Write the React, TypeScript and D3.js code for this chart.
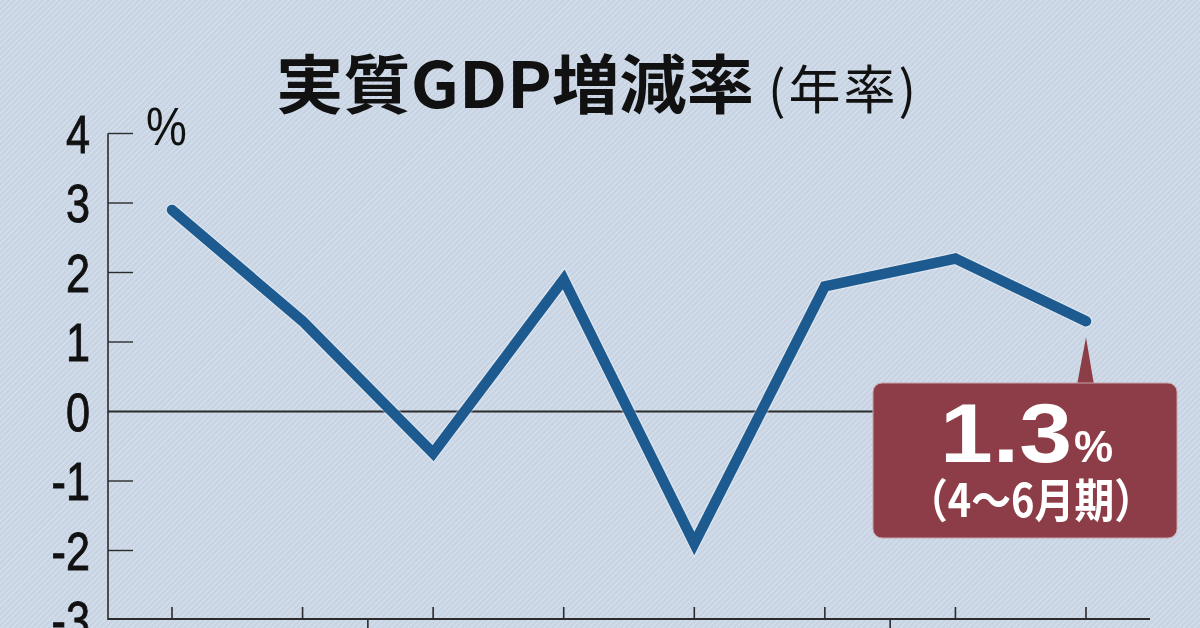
import React from 'react';
import * as d3 from 'd3';

const periods = ['P1', 'P2', 'P3', 'P4', 'P5', 'P6', 'P7', 'P8'];
const growth = [2.9, 1.3, -0.6, 1.9, -1.9, 1.8, 2.2, 1.3];
const yTicks = [-3, -2, -1, 0, 1, 2, 3, 4];
const yearBreaks = [1.5, 5.5];
const titleMain = '実質GDP増減率';
const titleSub = '(年率)';
const unitLabel = '%';
const calloutValue = '1.3';
const calloutPeriod = '（4～6月期）';

const W = 1200;
const H = 628;

export default function App() {
  const x = d3.scalePoint<string>().domain(periods).range([172, 1086]);
  const xi = d3.scaleLinear().domain([0, periods.length - 1]).range([172, 1086]);
  const y = d3.scaleLinear().domain([-3, 4]).range([620, 133.5]);
  const line = d3
    .line<number>()
    .x((_, i) => x(periods[i]) as number)
    .y((d) => y(d));
  const path = line(growth) || '';
  const axisColor = '#2b2b2b';
  const lastX = x(periods[periods.length - 1]) as number;
  const lastY = y(growth[growth.length - 1]);
  const box = { x0: 873, x1: 1177, y0: 383, y1: 538 };

  return (
    <svg
      width={W}
      height={H}
      style={{ position: 'fixed', left: 0, top: 0, display: 'block' }}
      xmlns="http://www.w3.org/2000/svg"
    >
      <defs>
        <pattern id="hatch" width="4" height="4" patternUnits="userSpaceOnUse" patternTransform="rotate(45)">
          <rect width="4" height="4" fill="#c8d4e3" />
          <line x1="0" y1="0" x2="0" y2="4" stroke="#dde6f0" strokeWidth="1.6" />
        </pattern>
      </defs>
      <rect x={0} y={0} width={W} height={H} fill="url(#hatch)" />

      {/* Title */}
      <text
        x={276}
        y={108}
        fontFamily="'Noto Sans CJK JP', 'Noto Sans', sans-serif"
        fontWeight={700}
        fontSize={64}
        fill="#111"
        textLength={478}
        lengthAdjust="spacingAndGlyphs"
      >
        {titleMain}
      </text>
      <text
        x={768}
        y={109}
        fontFamily="'Noto Sans CJK JP', 'Noto Sans', sans-serif"
        fontWeight={400}
        fontSize={52}
        fill="#111"
        textLength={148}
        lengthAdjust="spacing"
      >
        {titleSub}
      </text>

      {/* Y axis */}
      <line x1={108} x2={108} y1={y(4)} y2={y(-3)} stroke={axisColor} strokeWidth={1.6} />
      {yTicks.map((t) => (
        <g key={t}>
          {t !== 0 && t !== -3 && (
            <line x1={108} x2={133} y1={y(t)} y2={y(t)} stroke={axisColor} strokeWidth={1.4} />
          )}
          <text
            transform={`translate(90, ${y(t)}) scale(0.8, 1)`}
            dy="0.36em"
            textAnchor="end"
            fontFamily="'Liberation Sans', Arial, sans-serif"
            fontSize={54}
            fill="#111"
            stroke="#111"
            strokeWidth={0.9}
          >
            {t}
          </text>
        </g>
      ))}
      <text
        transform={`translate(146, 145) scale(0.85, 1)`}
        fontFamily="'Liberation Sans', Arial, sans-serif"
        fontSize={54}
        fill="#111"
      >
        {unitLabel}
      </text>

      {/* zero line */}
      <line x1={108} x2={1150} y1={y(0)} y2={y(0)} stroke={axisColor} strokeWidth={1.8} />

      {/* bottom axis */}
      <line x1={108} x2={1150} y1={y(-3) - 1} y2={y(-3) - 1} stroke={axisColor} strokeWidth={2} />
      {periods.map((p) => (
        <line
          key={p}
          x1={x(p) as number}
          x2={x(p) as number}
          y1={y(-3) - 1}
          y2={y(-3) - 13}
          stroke={axisColor}
          strokeWidth={1.6}
        />
      ))}
      {yearBreaks.map((b) => (
        <line key={b} x1={xi(b)} x2={xi(b)} y1={y(-3) - 1} y2={H} stroke={axisColor} strokeWidth={1.6} />
      ))}

      {/* Line */}
      <path d={path} fill="none" stroke="#ffffff" strokeOpacity={0.35} strokeWidth={13} strokeLinecap="round" strokeLinejoin="miter" />
      <path d={path} fill="none" stroke="#1c5a8f" strokeWidth={10.5} strokeLinecap="round" strokeLinejoin="miter" />

      {/* Callout */}
      <path
        d={`M${lastX - 9},${box.y0 + 2} L${lastX},${lastY + 16} L${lastX + 8},${box.y0 + 2} Z`}
        fill="#8c3d47"
      />
      <rect
        x={box.x0}
        y={box.y0}
        width={box.x1 - box.x0}
        height={box.y1 - box.y0}
        rx={9}
        ry={9}
        fill="#8c3d47"
        stroke="#c9a3aa"
        strokeWidth={1}
      />
      <text
        x={1072}
        y={462}
        textAnchor="end"
        fontFamily="'Liberation Sans', Arial, sans-serif"
        fontWeight={700}
        fontSize={84}
        fill="#ffffff"
        textLength={132}
        lengthAdjust="spacingAndGlyphs"
      >
        {calloutValue}
      </text>
      <text
        x={1074}
        y={462}
        fontFamily="'Liberation Sans', Arial, sans-serif"
        fontWeight={700}
        fontSize={44}
        fill="#ffffff"
      >
        {unitLabel}
      </text>
      <text
        x={1031}
        y={517}
        textAnchor="middle"
        fontFamily="'Noto Sans CJK JP', 'Noto Sans', sans-serif"
        fontWeight={700}
        fontSize={46}
        fill="#ffffff"
        textLength={246}
        lengthAdjust="spacingAndGlyphs"
      >
        {calloutPeriod}
      </text>
    </svg>
  );
}
